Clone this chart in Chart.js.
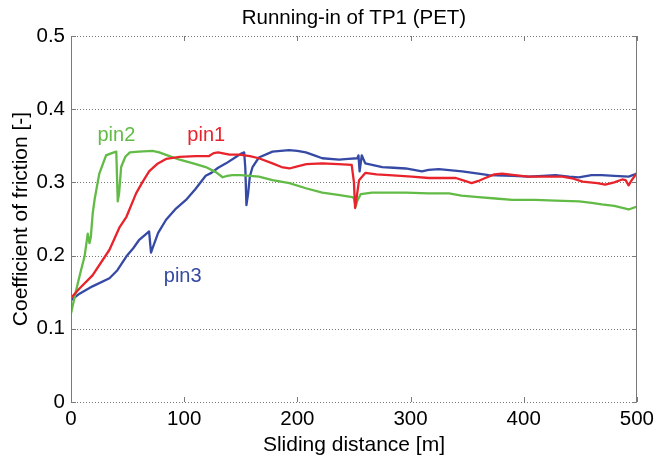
<!DOCTYPE html>
<html>
<head>
<meta charset="utf-8">
<script src="https://cdn.jsdelivr.net/npm/chart.js@4/dist/chart.umd.min.js"></script>
<style>
  html, body { margin: 0; padding: 0; background: #fff; }
  #wrap { width: 659px; height: 459px; }
</style>
</head>
<body>
<div id="wrap"><canvas id="c" width="659" height="459"></canvas></div>
<script>
// ---- data ----
const pin1Dist = [0,7.5,19,34,43,49,57.5,63,69,76,84,96,110,122,126,130,140,149,158,166,178,186,193,200,208,222,236,248,250,251,252,254.5,260,270,281,301,316,340,348,354,360,366,374,381,392,404,434,444,452,465,472,480,487,490,492.7,495,500];
const pin1Cof  = [0.142,0.155,0.173,0.208,0.239,0.253,0.285,0.300,0.315,0.325,0.332,0.335,0.336,0.336,0.340,0.341,0.338,0.338,0.336,0.333,0.326,0.321,0.319,0.322,0.325,0.326,0.325,0.324,0.300,0.265,0.275,0.303,0.313,0.311,0.310,0.308,0.306,0.306,0.302,0.299,0.302,0.306,0.311,0.312,0.310,0.308,0.308,0.305,0.301,0.299,0.297,0.300,0.304,0.303,0.296,0.302,0.313];

const pin2Dist = [0,4.6,8,12,14.8,16.3,17.5,19.2,21,25,31,36,40,41.3,42.5,44.3,48,52,60,72,78,87,96,108,119,128,134,138,142.5,150,166,178,193,207.5,222,236,248.6,250,251.5,253,256,266,296,316,334,345,360,375,390,410,428,449,460,469,480,492.7,500];
const pin2Cof  = [0.121,0.153,0.175,0.199,0.230,0.217,0.225,0.258,0.278,0.312,0.337,0.340,0.342,0.274,0.285,0.321,0.335,0.341,0.342,0.343,0.341,0.336,0.331,0.326,0.321,0.314,0.307,0.309,0.310,0.310,0.308,0.303,0.299,0.292,0.286,0.283,0.280,0.278,0.267,0.275,0.284,0.286,0.286,0.285,0.285,0.282,0.280,0.278,0.276,0.276,0.275,0.274,0.272,0.270,0.268,0.263,0.267];

const pin3Dist = [0,7.5,19,34,41,49,55,60,66,69,70.7,72,77,84,92,101.6,110,119,124,130,137,145,150,153,154,155,156.5,158,160.4,166,178,192.7,200,207.5,215,222,236.9,245,253,254,255,256.9,260,275,285,295.7,303,310,316,325,345.6,360,369,390,404.5,417,428,440,448.6,460,469,480,492.7,500];
const pin3Cof  = [0.139,0.148,0.158,0.169,0.180,0.199,0.210,0.221,0.229,0.233,0.204,0.210,0.231,0.249,0.263,0.276,0.291,0.309,0.313,0.320,0.326,0.334,0.339,0.341,0.320,0.269,0.285,0.308,0.321,0.334,0.342,0.344,0.343,0.341,0.337,0.333,0.331,0.332,0.333,0.337,0.315,0.337,0.326,0.321,0.320,0.319,0.317,0.315,0.317,0.318,0.315,0.312,0.310,0.309,0.308,0.309,0.310,0.308,0.307,0.310,0.310,0.309,0.308,0.312];

const xTicks = [0,100,200,300,400,500];
const yTicks = [0,0.1,0.2,0.3,0.4,0.5];
const xTickLabels = ['0','100','200','300','400','500'];
const yTickLabels = ['0','0.1','0.2','0.3','0.4','0.5'];

const chartTitle = 'Running-in of TP1 (PET)';
const seriesNames = ['pin1','pin2','pin3'];
// inline labels: [distance, cof] of left/baseline anchor
const labelDist = [102.8, 23.4, 82];
const labelCof  = [0.3572, 0.3572, 0.1639];

const colors = ['#e8232b', '#62bb46', '#3549a5'];

function pts(xs, ys) { return xs.map((x, i) => ({x: x, y: ys[i]})); }

const FONT = '"Liberation Sans", Arial, Helvetica, sans-serif';

const gridPlugin = {
  id: 'gridPlugin',
  beforeDatasetsDraw(chart) {
    const ctx = chart.ctx;
    const a = chart.chartArea;
    const ys = chart.scales.y;
    ctx.save();
    ctx.strokeStyle = '#777';
    ctx.lineWidth = 1;
    ctx.setLineDash([1, 2]);
    ctx.beginPath();
    yTicks.forEach(v => {
      const py = Math.round(ys.getPixelForValue(v)) + 0.5;
      ctx.moveTo(a.left, py); ctx.lineTo(a.right, py);
    });
    ctx.stroke();
    ctx.restore();
  },
  afterDraw(chart) {
    const ctx = chart.ctx;
    const a = chart.chartArea;
    const xs = chart.scales.x, ys = chart.scales.y;
    ctx.save();
    ctx.strokeStyle = '#7a7a7a';
    ctx.lineWidth = 1;
    ctx.setLineDash([]);
    ctx.beginPath();
    ctx.moveTo(Math.round(a.left) + 0.5, a.top);
    ctx.lineTo(Math.round(a.left) + 0.5, a.bottom);
    ctx.moveTo(Math.round(a.right) - 0.5, a.top);
    ctx.lineTo(Math.round(a.right) - 0.5, a.bottom);
    const tl = 5;
    xTicks.forEach(v => {
      const px = Math.round(xs.getPixelForValue(v)) + 0.5;
      ctx.moveTo(px, a.top); ctx.lineTo(px, a.top + tl);
      ctx.moveTo(px, a.bottom); ctx.lineTo(px, a.bottom - tl);
    });
    yTicks.forEach(v => {
      const py = Math.round(ys.getPixelForValue(v)) + 0.5;
      ctx.moveTo(a.left, py); ctx.lineTo(a.left + tl, py);
      ctx.moveTo(a.right, py); ctx.lineTo(a.right - tl, py);
    });
    ctx.stroke();
    // title centred over the plot area
    ctx.fillStyle = '#000';
    ctx.font = '20.5px ' + FONT;
    ctx.textAlign = 'center';
    ctx.textBaseline = 'middle';
    ctx.fillText(chartTitle, (a.left + a.right) / 2, 18);
    // inline series labels
    ctx.font = '20px ' + FONT;
    ctx.textAlign = 'left';
    ctx.textBaseline = 'alphabetic';
    seriesNames.forEach((n, i) => {
      ctx.fillStyle = colors[i];
      ctx.fillText(n, xs.getPixelForValue(labelDist[i]), ys.getPixelForValue(labelCof[i]));
    });
    ctx.restore();
  }
};

Chart.defaults.color = '#000';
Chart.defaults.font.family = FONT;

new Chart(document.getElementById('c'), {
  type: 'line',
  data: {
    datasets: [
      { label: 'pin1', data: pts(pin1Dist, pin1Cof), borderColor: colors[0] },
      { label: 'pin2', data: pts(pin2Dist, pin2Cof), borderColor: colors[1] },
      { label: 'pin3', data: pts(pin3Dist, pin3Cof), borderColor: colors[2] }
    ]
  },
  options: {
    responsive: false,
    animation: false,
    events: [],
    elements: {
      point: { radius: 0 },
      line: { borderWidth: 2.3, tension: 0, fill: false, borderJoinStyle: 'round', borderCapStyle: 'round' }
    },
    layout: { padding: { left: 0, right: 21, top: 36, bottom: 0 } },
    plugins: {
      legend: { display: false },
      tooltip: { enabled: false },
      title: { display: false }
    },
    scales: {
      x: {
        type: 'linear',
        min: 0, max: 500,
        afterBuildTicks(scale) { scale.ticks = xTicks.map(v => ({value: v})); },
        ticks: {
          callback: (v) => xTickLabels[xTicks.indexOf(v)],
          font: { size: 20.5 },
          padding: 5,
          maxRotation: 0,
          autoSkip: false
        },
        grid: { display: false, drawTicks: false },
        border: { display: false },
        title: {
          display: true,
          text: 'Sliding distance [m]',
          font: { size: 21 },
          padding: { top: 0, bottom: 1 }
        },
        afterFit(scale) { scale.height = 57; }
      },
      y: {
        type: 'linear',
        min: 0, max: 0.5,
        afterBuildTicks(scale) { scale.ticks = yTicks.map(v => ({value: v})); },
        ticks: {
          callback: (v, i) => yTickLabels[i],
          font: { size: 20.5 },
          padding: 6,
          autoSkip: false
        },
        grid: { display: false, drawTicks: false },
        border: { display: false },
        title: {
          display: true,
          text: 'Coefficient of friction [-]',
          font: { size: 21 },
          padding: { top: 9, bottom: 0 }
        },
        afterFit(scale) { scale.width = 71; }
      }
    }
  },
  plugins: [gridPlugin]
});
</script>
</body>
</html>
